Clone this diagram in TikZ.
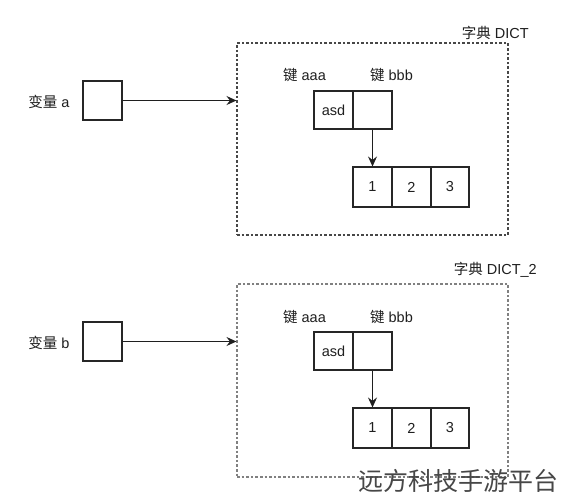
\documentclass[tikz,border=0pt]{standalone}
\usepackage{fontspec}
\setmainfont{Liberation Sans}
\newfontfamily\cjk{Noto Sans CJK SC}
\usetikzlibrary{arrows.meta}
\begin{document}
\begin{tikzpicture}[x=1pt,y=-1pt,
  txt/.style={font=\fontsize{14.5}{16}\selectfont, text=black!88, inner sep=0pt},
  cellbox/.style={draw=black!85, line width=1.1pt, minimum width=39pt, minimum height=39pt, inner sep=0pt, txt},
  dictbox/.style={draw=black!72, line width=1.1pt, dash pattern=on 2.6pt off 2pt, minimum width=271pt, minimum height=192pt, inner sep=0pt},
  conn/.style={draw=black!88, line width=1.1pt, -{Stealth[length=10pt,width=9pt,inset=3.5pt]}}]
\useasboundingbox (0,0) rectangle (561,500);
\fill[white] (0,0) rectangle (561,500);

% ---------- section 1 ----------
\node[txt] (lbla) at (49,101.5) {{\cjk 变量} a};
\node[cellbox] (vara) at (102.5,100.5) {};
\node[dictbox] (dicta) at (372.5,139) {};
\node[txt, anchor=east] (titlea) at (529,33) {{\cjk 字典} DICT};
\node[txt] (keyaa) at (304.5,75.5) {{\cjk 键} aaa};
\node[txt] (keyab) at (391.5,75.5) {{\cjk 键} bbb};
\node[cellbox, minimum height=38pt] (asda) at (333.5,110) {asd};
\node[cellbox, minimum height=38pt] (ptra) at (372.5,110) {};
\node[cellbox, minimum height=40pt] (ona) at (372.5,187) {1};
\node[cellbox, minimum height=40pt] (twa) at (411.5,187) {2};
\node[cellbox, minimum height=40pt, minimum width=38pt] (tha) at (450,187) {3};
\draw[conn] (vara.east) -- (vara.east -| dicta.west);
\draw[conn] (ptra.south) -- (ona.north);

% ---------- section 2 ----------
\begin{scope}[shift={(0,241)}]
\node[txt] (lblb) at (49,101.5) {{\cjk 变量} b};
\node[cellbox] (varb) at (102.5,100.5) {};
\node[dictbox, draw=black!50, minimum height=193pt] (dictb) at (372.5,139.5) {};
\node[txt, anchor=east] (titleb) at (537,29) {{\cjk 字典} DICT\_2};
\node[txt] (keyba) at (304.5,75.5) {{\cjk 键} aaa};
\node[txt] (keybb) at (391.5,75.5) {{\cjk 键} bbb};
\node[cellbox, minimum height=38pt] (asdb) at (333.5,110) {asd};
\node[cellbox, minimum height=38pt] (ptrb) at (372.5,110) {};
\node[cellbox, minimum height=40pt] (onb) at (372.5,187) {1};
\node[cellbox, minimum height=40pt] (twb) at (411.5,187) {2};
\node[cellbox, minimum height=40pt, minimum width=38pt] (thb) at (450,187) {3};
\draw[conn] (varb.east) -- (varb.east -| dictb.west);
\draw[conn] (ptrb.south) -- (onb.north);
\end{scope}

% watermark
\node[inner sep=0pt, text=black!72, font=\cjk\fontsize{25}{27}\selectfont] (wm) at (458,481) {远方科技手游平台};
\end{tikzpicture}
\end{document}
